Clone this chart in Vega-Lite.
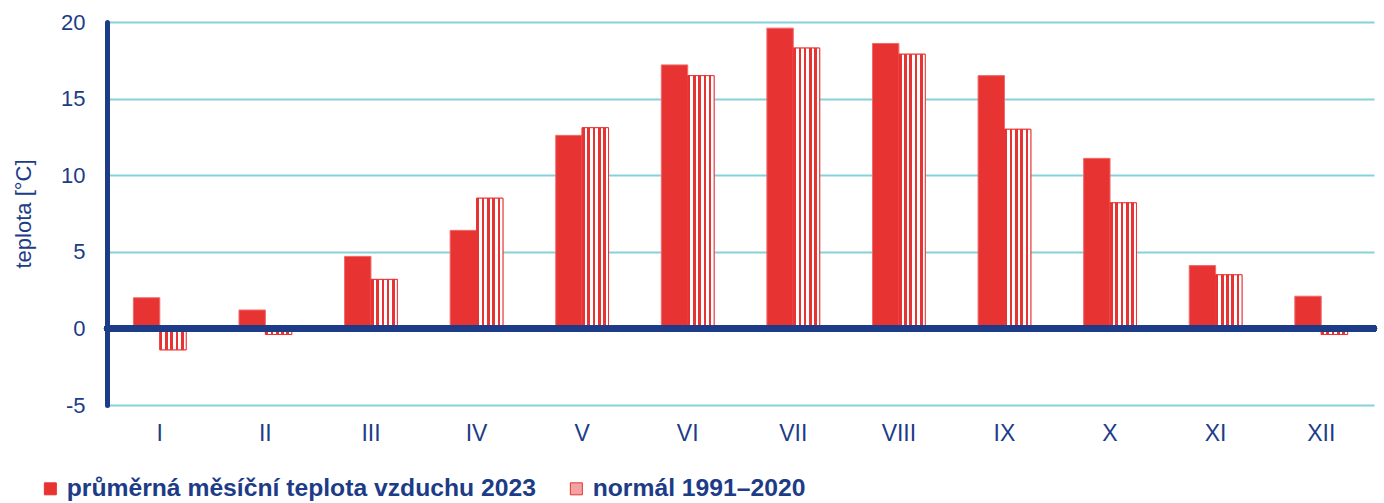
{
  "$schema": "https://vega.github.io/schema/vega-lite/v6.json",
  "autosize": {"type": "none"},
  "width": 1267,
  "height": 383,
  "padding": {"left": 107, "top": 22, "right": 10, "bottom": 98},
  "background": "#ffffff",
  "config": {
    "view": {"stroke": null},
    "font": "Liberation Sans",
    "axis": {"labelFont": "Liberation Sans", "titleFont": "Liberation Sans"}
  },
  "data": {
    "values": [
      {"month": "I", "series": "průměrná měsíční teplota vzduchu 2023", "value": 2.0},
      {"month": "II", "series": "průměrná měsíční teplota vzduchu 2023", "value": 1.2},
      {"month": "III", "series": "průměrná měsíční teplota vzduchu 2023", "value": 4.7},
      {"month": "IV", "series": "průměrná měsíční teplota vzduchu 2023", "value": 6.4},
      {"month": "V", "series": "průměrná měsíční teplota vzduchu 2023", "value": 12.6},
      {"month": "VI", "series": "průměrná měsíční teplota vzduchu 2023", "value": 17.2},
      {"month": "VII", "series": "průměrná měsíční teplota vzduchu 2023", "value": 19.6},
      {"month": "VIII", "series": "průměrná měsíční teplota vzduchu 2023", "value": 18.6},
      {"month": "IX", "series": "průměrná měsíční teplota vzduchu 2023", "value": 16.5},
      {"month": "X", "series": "průměrná měsíční teplota vzduchu 2023", "value": 11.1},
      {"month": "XI", "series": "průměrná měsíční teplota vzduchu 2023", "value": 4.1},
      {"month": "XII", "series": "průměrná měsíční teplota vzduchu 2023", "value": 2.1},
      {"month": "I", "series": "normál 1991–2020", "value": -1.4},
      {"month": "II", "series": "normál 1991–2020", "value": -0.4},
      {"month": "III", "series": "normál 1991–2020", "value": 3.2},
      {"month": "IV", "series": "normál 1991–2020", "value": 8.5},
      {"month": "V", "series": "normál 1991–2020", "value": 13.1},
      {"month": "VI", "series": "normál 1991–2020", "value": 16.5},
      {"month": "VII", "series": "normál 1991–2020", "value": 18.3},
      {"month": "VIII", "series": "normál 1991–2020", "value": 17.9},
      {"month": "IX", "series": "normál 1991–2020", "value": 13.0},
      {"month": "X", "series": "normál 1991–2020", "value": 8.2},
      {"month": "XI", "series": "normál 1991–2020", "value": 3.5},
      {"month": "XII", "series": "normál 1991–2020", "value": -0.4}
    ]
  },
  "encoding": {
    "x": {
      "field": "month",
      "type": "nominal",
      "sort": ["I", "II", "III", "IV", "V", "VI", "VII", "VIII", "IX", "X", "XI", "XII"],
      "scale": {"paddingInner": 0.5, "paddingOuter": 0.25},
      "axis": {
        "title": null,
        "domain": false,
        "ticks": false,
        "tickSize": 0,
        "grid": false,
        "labelAngle": 0,
        "labelColor": "#1d3c87",
        "labelFontSize": 23,
        "labelPadding": 17
      }
    },
    "xOffset": {
      "field": "series",
      "type": "nominal",
      "sort": ["průměrná měsíční teplota vzduchu 2023", "normál 1991–2020"],
      "scale": {"paddingInner": 0, "paddingOuter": 0}
    },
    "y": {
      "field": "value",
      "type": "quantitative",
      "scale": {"domain": [-5, 20], "nice": false, "zero": false},
      "axis": {
        "title": "teplota [°C]",
        "titleColor": "#1d3c87",
        "titleFontSize": 22,
        "titleFontWeight": "normal",
        "titlePadding": 25,
        "values": [-5, 0, 5, 10, 15, 20],
        "labelExpr": "replace(datum.label, '−', '-')",
        "domain": true,
        "domainColor": "#1d3c87",
        "domainWidth": 5,
        "domainCap": "round",
        "ticks": false,
        "tickSize": 0,
        "grid": true,
        "gridColor": "#86d2dc",
        "gridWidth": 2,
        "gridOpacity": 1,
        "labelColor": "#1d3c87",
        "labelFontSize": 22,
        "labelPadding": 22
      }
    }
  },
  "layer": [
    {
      "mark": {"type": "bar", "stroke": "#f06a6a", "strokeWidth": 1},
      "encoding": {
        "color": {
          "field": "series",
          "type": "nominal",
          "sort": ["průměrná měsíční teplota vzduchu 2023", "normál 1991–2020"],
          "scale": {
            "domain": ["průměrná měsíční teplota vzduchu 2023", "normál 1991–2020"],
            "range": ["#e83333", "#f3a3a3"]
          },
          "legend": {
            "title": null,
            "orient": "none",
            "legendX": -69,
            "legendY": 454,
            "direction": "horizontal",
            "columns": 2,
            "padding": 0,
            "columnPadding": 28,
            "symbolType": "square",
            "symbolSize": 144,
            "symbolStrokeColor": "#e83333",
            "symbolStrokeWidth": 1,
            "labelOffset": 4,
            "labelFont": "Liberation Sans",
            "labelFontSize": 24.7,
            "labelFontWeight": "bold",
            "labelColor": "#1d3c87",
            "labelLimit": 0
          }
        }
      }
    },
    {
      "transform": [{"filter": "datum.series === 'normál 1991–2020'"}],
      "mark": {
        "type": "bar",
        "stroke": "#e83333",
        "strokeWidth": 1,
        "fill": {
          "gradient": "linear",
          "x1": 0, "y1": 0, "x2": 1, "y2": 0,
          "stops": [
            {"offset": 0, "color": "#e83333"}, {"offset": 0.1, "color": "#e83333"},
            {"offset": 0.1, "color": "#ffffff"}, {"offset": 0.2, "color": "#ffffff"},
            {"offset": 0.2, "color": "#e83333"}, {"offset": 0.3, "color": "#e83333"},
            {"offset": 0.3, "color": "#ffffff"}, {"offset": 0.4, "color": "#ffffff"},
            {"offset": 0.4, "color": "#e83333"}, {"offset": 0.5, "color": "#e83333"},
            {"offset": 0.5, "color": "#ffffff"}, {"offset": 0.6, "color": "#ffffff"},
            {"offset": 0.6, "color": "#e83333"}, {"offset": 0.7, "color": "#e83333"},
            {"offset": 0.7, "color": "#ffffff"}, {"offset": 0.8, "color": "#ffffff"},
            {"offset": 0.8, "color": "#e83333"}, {"offset": 0.9, "color": "#e83333"},
            {"offset": 0.9, "color": "#ffffff"}, {"offset": 1, "color": "#ffffff"}
          ]
        }
      },
      "encoding": {}
    },
    {
      "mark": {"type": "rule", "color": "#1d3c87", "strokeWidth": 6, "strokeCap": "round"},
      "encoding": {"y": {"datum": 0}, "x": null, "xOffset": null}
    }
  ]
}
